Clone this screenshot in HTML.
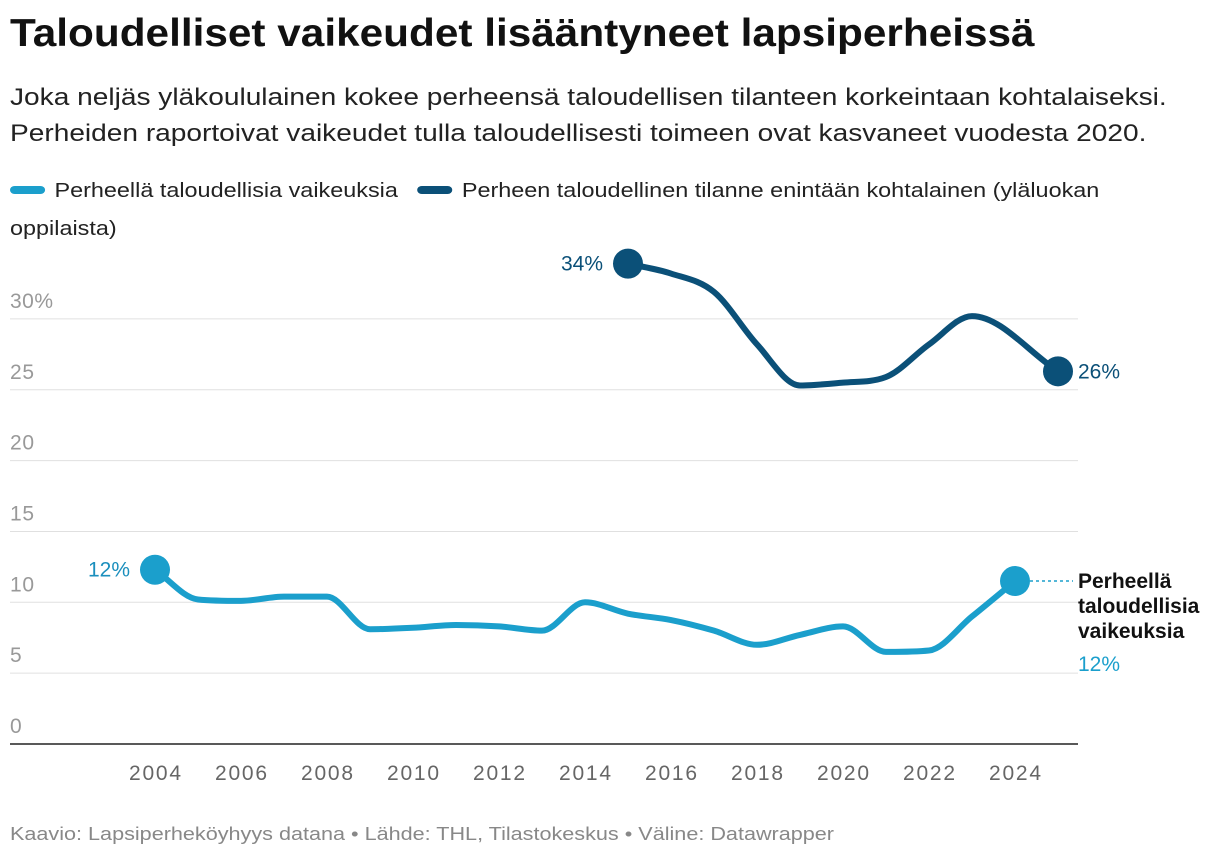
<!DOCTYPE html>
<html><head><meta charset="utf-8">
<style>
body{margin:0;background:#fff;font-family:"Liberation Sans",sans-serif;width:1220px;height:860px;overflow:hidden;position:relative}
.s{display:inline-block;transform-origin:0 0;white-space:nowrap}
h1{position:absolute;left:10px;top:12px;margin:0;font-size:39px;font-weight:bold;color:#111}
h1 .s{transform:scaleX(1.085)}
.sub{position:absolute;left:10px;top:80px;font-size:24px;line-height:36px;color:#222}
.sub .s{transform:scaleX(1.17)}
.legend{position:absolute;left:10px;top:172px;font-size:20px;line-height:38px;color:#222}
.legend .s{transform:scaleX(1.17)}
.sw{display:inline-block;width:30px;height:8px;border-radius:4px;vertical-align:middle;margin-right:8px;position:relative;top:-2px}
.foot{position:absolute;left:10px;top:824px;font-size:18px;color:#888}
.foot .s{transform:scaleX(1.2)}
svg{position:absolute;left:0;top:0}
</style></head><body>
<h1><span class="s">Taloudelliset vaikeudet lisääntyneet lapsiperheissä</span></h1>
<div class="sub"><span class="s">Joka neljäs yläkoululainen kokee perheensä taloudellisen tilanteen korkeintaan kohtalaiseksi.<br>Perheiden raportoivat vaikeudet tulla taloudellisesti toimeen ovat kasvaneet vuodesta 2020.</span></div>
<div class="legend"><span class="s"><span><span class="sw" style="background:#1b9fcc"></span>Perheellä taloudellisia vaikeuksia</span>&nbsp;&nbsp;&nbsp;<span><span class="sw" style="background:#0b5078"></span>Perheen taloudellinen tilanne enintään kohtalainen (yläluokan</span><br>oppilaista)</span></div>
<svg id="chart" width="1220" height="860"></svg>
<div class="foot"><span class="s">Kaavio: Lapsiperheköyhyys datana • Lähde: THL, Tilastokeskus • Väline: Datawrapper</span></div>
<script>
const yearsA=[2004,2005,2006,2007,2008,2009,2010,2011,2012,2013,2014,2015,2016,2017,2018,2019,2020,2021,2022,2023,2024];
const valuesA=[12.3,10.2,10.1,10.4,10.4,8.1,8.2,8.4,8.3,8.0,10.0,9.2,8.75,8.0,7.0,7.7,8.3,6.5,6.6,9.0,11.5];
const yearsB=[2015,2016,2017,2018,2019,2020,2021,2022,2023,2025];
const valuesB=[33.9,33.2,31.9,28.2,25.3,25.5,25.9,28.2,30.2,26.3];
const yTicks=[0,5,10,15,20,25,30];
const xTicks=[2004,2006,2008,2010,2012,2014,2016,2018,2020,2022,2024];
const NS="http://www.w3.org/2000/svg";
const svg=document.getElementById('chart');
const x=y=>155+(y-2004)*43;
const yS=v=>744-v*14.17;
function mk(t,a){const e=document.createElementNS(NS,t);for(const k in a)e.setAttribute(k,a[k]);svg.appendChild(e);return e;}
yTicks.forEach(t=>{
 if(t>0){const l=mk('line',{x1:10,x2:1078,y1:yS(t),y2:yS(t),stroke:'#e0e0e0','stroke-width':1});
 
 }
 const tx=mk('text',{x:10,y:yS(t)-11,'font-size':21,fill:'#999','font-family':'Liberation Sans',textLength:t===30?43:(t>=10?24:12)});
 tx.textContent=t===30?'30%':t;
 
 
});
const ax=mk('line',{x1:10,x2:1078,y1:yS(0),y2:yS(0),stroke:'#222','stroke-width':1.5});


xTicks.forEach(t=>{const tx=mk('text',{x:x(t)-26,y:780,'font-size':21,fill:'#666','font-family':'Liberation Sans',textLength:52});tx.textContent=t;
 
 });
function mono(px,py){const n=px.length,d=[],m=[];for(let i=0;i<n-1;i++)d.push((py[i+1]-py[i])/(px[i+1]-px[i]));
 m[0]=d[0];m[n-1]=d[n-2];for(let i=1;i<n-1;i++){m[i]=d[i-1]*d[i]<=0?0:(d[i-1]+d[i])/2;}
 for(let i=0;i<n-1;i++){if(d[i]===0){m[i]=0;m[i+1]=0;continue;}const a=m[i]/d[i],b=m[i+1]/d[i],s=a*a+b*b;if(s>9){const t=3/Math.sqrt(s);m[i]=t*a*d[i];m[i+1]=t*b*d[i];}}
 let p='M'+px[0]+','+py[0];for(let i=0;i<n-1;i++){const h=(px[i+1]-px[i])/3;p+=' C'+(px[i]+h)+','+(py[i]+m[i]*h)+' '+(px[i+1]-h)+','+(py[i+1]-m[i+1]*h)+' '+px[i+1]+','+py[i+1];}return p;}
function series(ys,vs,col,name){const p=mk('path',{d:mono(ys.map(x),vs.map(yS)),fill:'none',stroke:col,'stroke-width':6,'stroke-linecap':'round'});
 
 
 [0,ys.length-1].forEach(i=>{const c=mk('circle',{cx:x(ys[i]),cy:yS(vs[i]),r:15,fill:col});
 
 });}
series(yearsA,valuesA,'#1b9fcc','difficulties');
series(yearsB,valuesB,'#0b5078','moderate');
function lab(t,xx,yy,col,anc,name,bold){const e=mk('text',{x:xx,y:yy,'font-size':bold?21:21,fill:col,'text-anchor':anc,'font-family':'Liberation Sans','font-weight':bold?'bold':'normal'});e.textContent=t;
 
 }
lab(Math.round(valuesA[0])+'%',x(yearsA[0])-25,yS(valuesA[0])+7,'#1b8fbd','end','label-start-a');
lab(Math.round(valuesB[0])+'%',x(yearsB[0])-25,yS(valuesB[0])+7,'#0b5078','end','label-start-b');
lab(Math.round(valuesB[valuesB.length-1])+'%',x(yearsB[yearsB.length-1])+20,yS(valuesB[valuesB.length-1])+7,'#0b5078','start','label-end-b');
const ey=yS(valuesA[valuesA.length-1]);
const dl=mk('line',{x1:x(2024)+15,x2:1073,y1:ey,y2:ey,stroke:'#1b9fcc','stroke-width':1.5,'stroke-dasharray':'3,3'});


lab('Perheellä',1078,ey+7,'#111','start','end-label-line1',true);
lab('taloudellisia',1078,ey+32,'#111','start','end-label-line2',true);
lab('vaikeuksia',1078,ey+57,'#111','start','end-label-line3',true);
lab(Math.round(valuesA[valuesA.length-1])+'%',1078,ey+90,'#1b9fcc','start','label-end-a');
</script>
</body></html>
